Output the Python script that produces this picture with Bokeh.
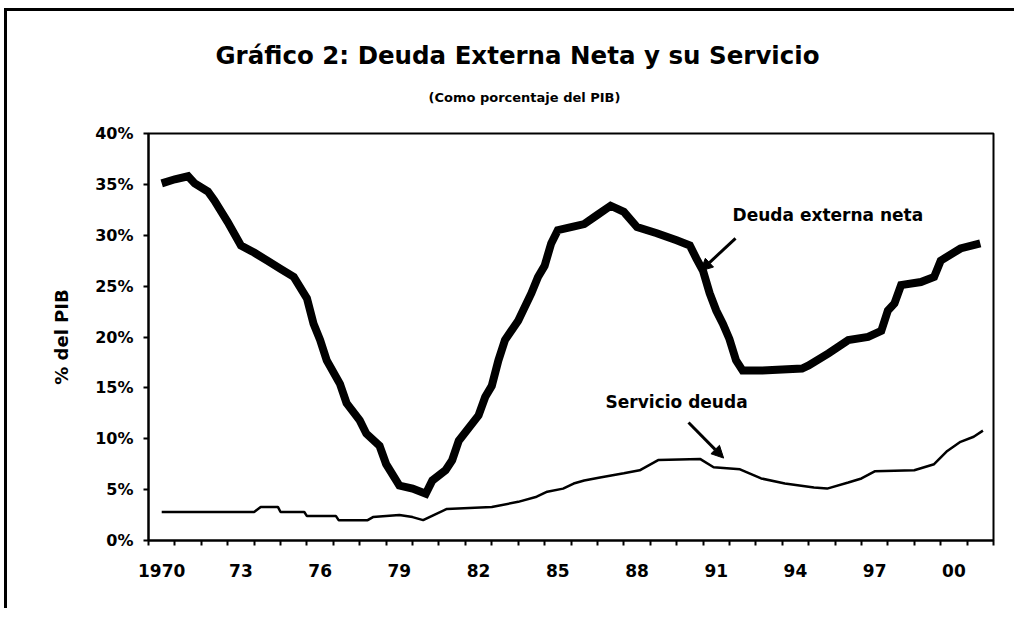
from bokeh.plotting import figure
from bokeh.models import (LinearAxis, FixedTicker, NumeralTickFormatter, Range1d,
                          Label, Arrow, NormalHead, Title)
from bokeh.embed import file_html
from bokeh.resources import INLINE

# ---- data ----
deuda_t = [1970.0, 1970.5, 1971.0, 1971.25, 1971.75, 1972.0, 1972.5, 1973.0, 1973.5, 1974.0,
           1974.5, 1975.0, 1975.5, 1975.75, 1976.0, 1976.25, 1976.75, 1977.0, 1977.5, 1977.75,
           1978.25, 1978.5, 1979.0, 1979.5, 1980.0, 1980.25, 1980.75, 1981.0, 1981.25, 1982.0,
           1982.25, 1982.5, 1982.75, 1983.0, 1983.5, 1984.0, 1984.25, 1984.5, 1984.75, 1985.0,
           1985.5, 1986.0, 1986.5, 1987.0, 1987.5, 1988.0, 1988.75, 1989.5, 1990.0, 1990.25,
           1990.5, 1990.75, 1991.0, 1991.25, 1991.5, 1991.75, 1992.0, 1992.75, 1994.25, 1994.5,
           1995.25, 1996.0, 1996.75, 1997.25, 1997.5, 1997.75, 1998.0, 1998.75, 1999.25, 1999.5,
           2000.25, 2001.0]
deuda_v = [35.1, 35.5, 35.8, 35.1, 34.3, 33.4, 31.3, 29.0, 28.3, 27.5,
           26.7, 25.9, 23.8, 21.3, 19.7, 17.7, 15.4, 13.5, 11.8, 10.5,
           9.3, 7.5, 5.4, 5.1, 4.6, 5.9, 6.9, 7.9, 9.8, 12.3,
           14.1, 15.2, 17.7, 19.7, 21.6, 24.3, 25.9, 27.0, 29.2, 30.5,
           30.8, 31.1, 32.0, 32.9, 32.3, 30.8, 30.2, 29.5, 29.0, 27.7,
           26.5, 24.3, 22.6, 21.3, 19.8, 17.7, 16.7, 16.7, 16.9, 17.2,
           18.4, 19.7, 20.0, 20.6, 22.6, 23.3, 25.1, 25.4, 25.9, 27.5,
           28.7, 29.2]

serv_t = [1970.0, 1973.5, 1973.75, 1974.4, 1974.5, 1975.4, 1975.5, 1976.6, 1976.7, 1977.8,
          1978.0, 1979.0, 1979.5, 1979.9, 1980.3, 1980.8, 1982.5, 1983.5, 1984.2, 1984.6,
          1985.2, 1985.6, 1986.0, 1986.6, 1987.5, 1988.1, 1988.8, 1990.4, 1990.9, 1991.9,
          1992.7, 1993.6, 1994.7, 1995.2, 1996.0, 1996.5, 1997.0, 1998.5, 1999.25, 1999.75,
          2000.25, 2000.75, 2001.1]
serv_v = [2.8, 2.8, 3.3, 3.3, 2.8, 2.8, 2.4, 2.4, 2.0, 2.0,
          2.3, 2.5, 2.3, 2.0, 2.5, 3.1, 3.3, 3.8, 4.3, 4.8,
          5.1, 5.6, 5.9, 6.2, 6.6, 6.9, 7.9, 8.0, 7.2, 7.0,
          6.1, 5.6, 5.2, 5.1, 5.7, 6.1, 6.8, 6.9, 7.5, 8.8,
          9.7, 10.2, 10.8]

x_tick_years = [1970, 1973, 1976, 1979, 1982, 1985, 1988, 1991, 1994, 1997, 2000]
x_tick_labels = ["1970", "73", "76", "79", "82", "85", "88", "91", "94", "97", "00"]
y_ticks = [0.0, 0.05, 0.10, 0.15, 0.20, 0.25, 0.30, 0.35, 0.40]
first_year, last_year = 1970, 2001

title_text = "Gráfico 2: Deuda Externa Neta y su Servicio"
subtitle_text = "(Como porcentaje del PIB)"
label_deuda = "Deuda externa neta"
label_serv = "Servicio deuda"

FONT = "DejaVu Sans"

p = figure(width=1010, height=600, output_backend="svg", toolbar_location=None,
           x_range=Range1d(first_year - 0.5, last_year + 0.5), y_range=Range1d(0, 0.40),
           min_border_left=141, min_border_right=24, min_border_top=122, min_border_bottom=71)
p.styles = {"border-top": "3px solid black", "border-left": "3px solid black",
            "margin-top": "8px", "margin-left": "4px"}
p.grid.visible = False
p.outline_line_color = "black"
p.outline_line_width = 2
p.background_fill_color = "white"
p.border_fill_color = "white"

# titles (subtitle added first so it sits next to the frame)
p.add_layout(Title(text=subtitle_text, align="left", offset=280, standoff=57,
                   text_font=FONT, text_font_style="bold", text_font_size="13px",
                   text_color="black"), "above")
p.add_layout(Title(text=title_text, align="left", offset=67, standoff=-20,
                   text_font=FONT, text_font_style="bold", text_font_size="24.5px",
                   text_color="black"), "above")

# bottom axis: tick marks between years, no labels
xa = p.xaxis[0]
xa.ticker = FixedTicker(ticks=[y - 0.5 for y in range(first_year, last_year + 2)])
xa.major_label_text_font_size = "1px"
xa.major_label_text_alpha = 0
xa.major_label_standoff = 0
xa.major_tick_in = 0
xa.major_tick_out = 5
xa.major_tick_line_width = 2
xa.minor_tick_line_color = None
xa.axis_line_width = 2

# bottom axis: year labels centred on years
xl = LinearAxis(ticker=FixedTicker(ticks=x_tick_years),
                major_label_overrides={y: l for y, l in zip(x_tick_years, x_tick_labels)})
xl.axis_line_color = None
xl.major_tick_line_color = None
xl.minor_tick_line_color = None
xl.major_label_standoff = 12
xl.major_label_text_font = FONT
xl.major_label_text_font_style = "bold"
xl.major_label_text_font_size = "17px"
xl.major_label_text_color = "black"
p.add_layout(xl, "below")

ya = p.yaxis[0]
ya.ticker = FixedTicker(ticks=y_ticks)
ya.formatter = NumeralTickFormatter(format="0%")
ya.major_tick_in = 0
ya.major_tick_out = 5
ya.major_tick_line_width = 2
ya.minor_tick_line_color = None
ya.axis_line_width = 2
ya.major_label_text_font = FONT
ya.major_label_text_font_style = "bold"
ya.major_label_text_font_size = "16px"
ya.major_label_text_color = "black"
ya.major_label_standoff = 10
ya.axis_label = "% del PIB"
ya.axis_label_text_font = FONT
ya.axis_label_text_font_style = "bold"
ya.axis_label_text_font_size = "18px"
ya.axis_label_text_color = "black"
ya.axis_label_standoff = 20

p.line(x=deuda_t, y=[v / 100 for v in deuda_v], line_color="black", line_width=8,
       line_join="miter")
p.line(x=serv_t, y=[v / 100 for v in serv_v], line_color="black", line_width=2.5)

p.add_layout(Label(x=1991.62, y=0.3196, text=label_deuda, text_align="left",
                   text_baseline="middle", text_font=FONT, text_font_style="bold",
                   text_font_size="17px", text_color="black"))
p.add_layout(Label(x=1986.81, y=0.1357, text=label_serv, text_align="left",
                   text_baseline="middle", text_font=FONT, text_font_style="bold",
                   text_font_size="17px", text_color="black"))

p.add_layout(Arrow(x_start=1991.73, y_start=0.297, x_end=1990.41, y_end=0.265,
                   line_width=3, line_color="black",
                   end=NormalHead(size=12, fill_color="black", line_color="black")))
p.add_layout(Arrow(x_start=1989.95, y_start=0.116, x_end=1991.28, y_end=0.081,
                   line_width=3, line_color="black",
                   end=NormalHead(size=12, fill_color="black", line_color="black")))

open("out.html", "w").write(file_html(p, INLINE))
